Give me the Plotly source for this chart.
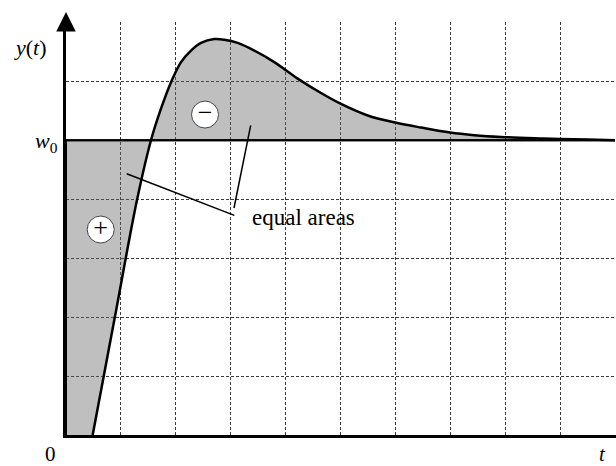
import plotly.graph_objects as go

# Step response y(t) of a delayed, overshooting system (normalised so w0 = 1)
t_vals = [0.486, 0.89, 1.293, 1.548, 1.730, 1.913, 2.095, 2.277, 2.459, 2.701,
          2.883, 3.127, 3.430, 3.794, 4.220, 4.645, 5.009, 5.495, 5.998, 6.466,
          6.995, 7.437, 7.923, 8.70, 9.50, 10.0]
y_vals = [0.0, 0.40, 0.797, 1.000, 1.107, 1.197, 1.265, 1.304, 1.330, 1.343,
          1.341, 1.330, 1.304, 1.265, 1.209, 1.160, 1.123, 1.084, 1.060, 1.043,
          1.026, 1.017, 1.011, 1.006, 1.002, 1.0]

w0 = 1.0
t_end = 10.0

# Sign markers for the two equal areas
sign_t = [0.632, 2.532]
sign_y = [0.697, 1.087]
sign_text = ["+", "\u2212"]

SERIF = "Liberation Serif, Times New Roman, serif"

fig = go.Figure()

# Set-point level w0 (its leg at t = 0 closes the shaded region along the axis)
fig.add_trace(go.Scatter(
    x=[0, 0, t_end], y=[0, w0, w0], mode="lines",
    line=dict(color="black", width=2), hoverinfo="skip", showlegend=False,
))

# Response curve; area between it and w0 is shaded
fig.add_trace(go.Scatter(
    x=t_vals, y=y_vals, mode="lines",
    line=dict(color="black", width=2.5, shape="spline", smoothing=1.0),
    fill="tonexty", fillcolor="rgba(100,100,100,0.41)",
    hoverinfo="skip", showlegend=False,
))

# Redraw the w0 level on top of the shading
fig.add_trace(go.Scatter(
    x=[0, t_end], y=[w0, w0], mode="lines",
    line=dict(color="black", width=2), hoverinfo="skip", showlegend=False,
))

fig.add_trace(go.Scatter(
    x=sign_t, y=sign_y, mode="markers+text",
    marker=dict(symbol="circle", size=27, color="white",
                line=dict(color="#444444", width=1)),
    text=sign_text, textposition="middle center",
    textfont=dict(family=SERIF, size=26, color="black"),
    hoverinfo="skip", showlegend=False,
))

grid = dict(showgrid=True, gridcolor="#3a3a3a", gridwidth=1, griddash="3px,2px")

fig.update_layout(
    width=616, height=466,
    margin=dict(l=66, r=0, t=22, b=31),
    paper_bgcolor="white", plot_bgcolor="white",
    xaxis=dict(range=[0, 10.018], tick0=0, dtick=1, showticklabels=False,
               ticks="", zeroline=False, showline=True, linecolor="black",
               linewidth=3, **grid),
    yaxis=dict(range=[0, 1.401], tick0=0, dtick=0.2, showticklabels=False,
               ticks="", zeroline=False, showline=True, linecolor="black",
               linewidth=3, **grid),
    shapes=[
        dict(type="line", xref="x", yref="y", x0=1.106, y0=0.886, x1=3.066, y1=0.745,
             line=dict(color="black", width=1.5)),
        dict(type="line", xref="x", yref="y", x0=3.06, y0=0.770, x1=3.364, y1=1.050,
             line=dict(color="black", width=1.5)),
    ],
    annotations=[
        # arrowhead on the y axis
        dict(xref="x", yref="paper", x=0, y=1.024, ax=0, ay=14,
             showarrow=True, arrowhead=2, arrowsize=1.3, arrowwidth=3,
             arrowcolor="black", text="", standoff=0),
        dict(xref="paper", yref="paper", x=-0.064, y=0.939,
             text="<i>y</i>(<i>t</i>)", showarrow=False,
             xanchor="center", yanchor="middle",
             font=dict(family=SERIF, size=22, color="black")),
        dict(xref="paper", yref="paper", x=-0.011, y=0.709,
             text="<i>w</i><sub>0</sub>", showarrow=False,
             xanchor="right", yanchor="middle",
             font=dict(family=SERIF, size=22, color="black")),
        dict(xref="paper", yref="paper", x=-0.0273, y=-0.046,
             text="0", showarrow=False, xanchor="center", yanchor="middle",
             font=dict(family=SERIF, size=21, color="black")),
        dict(xref="paper", yref="paper", x=0.976, y=-0.045,
             text="<i>t</i>", showarrow=False, xanchor="center", yanchor="middle",
             font=dict(family=SERIF, size=21, color="black")),
        dict(xref="x", yref="y", x=3.35, y=0.737,
             text="equal areas", showarrow=False, xanchor="left", yanchor="middle",
             font=dict(family=SERIF, size=23, color="black")),
    ],
)

fig.write_html("out.html")
